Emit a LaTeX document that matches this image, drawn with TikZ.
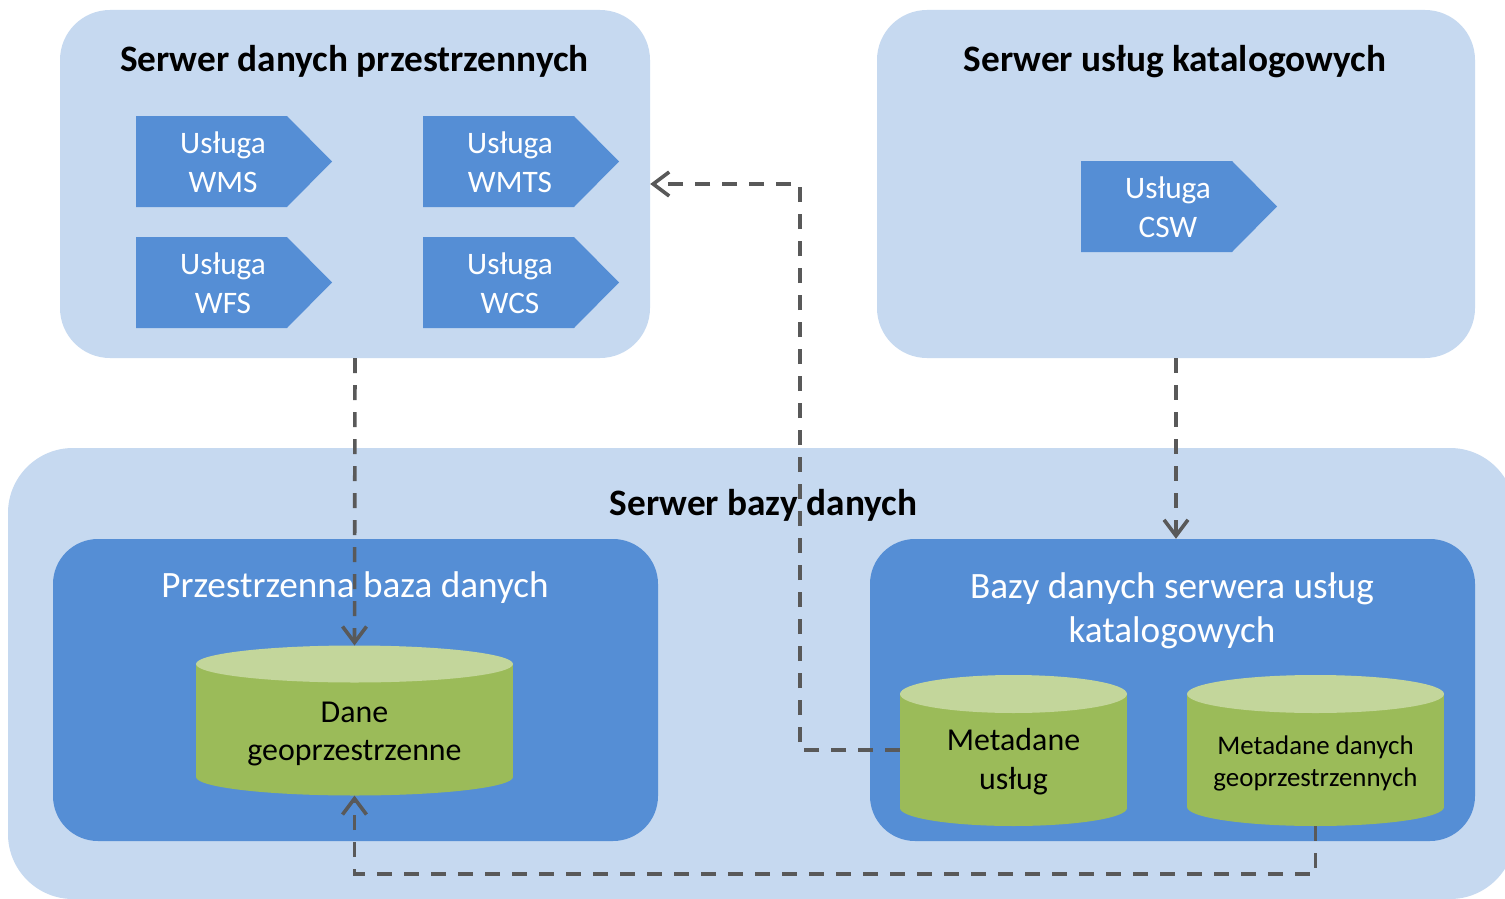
\documentclass[tikz,border=0pt]{standalone}
\usepackage{fontspec}
\setmainfont{Carlito}
\usetikzlibrary{arrows.meta}
\definecolor{lightbox}{RGB}{198,217,240}
\definecolor{midbox}{RGB}{85,142,213}
\definecolor{cylbody}{RGB}{155,187,89}
\definecolor{cyltop}{RGB}{195,214,155}
\definecolor{conncol}{RGB}{89,89,89}
\newcommand\svcshape[5]{% name, left, top, line1, line2
  \fill[midbox] (#2,#3) -- ++(151,0) -- ++(45,45.5) -- ++(-45,45.5) -- ++(-151,0) -- cycle;
  \node[svctext] (#1) at (#2+87,#3+46) {#4\\#5};
}
\newcommand\dbcyl[7]{% name, cx, rx, top cy, top ry, bottom cy, bottom ry
  \fill[cylbody] (#2-#3,#4) rectangle (#2+#3,#6);
  \fill[cylbody] (#2,#6) ellipse [x radius=#3pt, y radius=#7pt];
  \fill[cyltop] (#2,#4) ellipse [x radius=#3pt, y radius=#5pt];
  \coordinate (#1-top) at (#2,#4-#5);
  \coordinate (#1-bot) at (#2,#6+#7);
  \coordinate (#1-w) at (#2-#3,#4);
}
\begin{document}
\begin{tikzpicture}[x=1pt,y=-1pt,
  outerbox/.style={fill=lightbox, draw=none, rounded corners=50pt, inner sep=0pt},
  bigbox/.style={fill=lightbox, draw=none, rounded corners=65pt, inner sep=0pt},
  innerbox/.style={fill=midbox, draw=none, rounded corners=45pt, inner sep=0pt},
  titletext/.style={font=\fontsize{37.3}{45}\selectfont\bfseries, text=black, inner sep=0pt, anchor=base},
  subtitle/.style={font=\fontsize{37.2}{44}\selectfont, text=white, inner sep=0pt, align=center},
  svctext/.style={font=\fontsize{31.3}{39}\selectfont, text=white, inner sep=0pt, align=center},
  cyltext/.style={font=\fontsize{31.9}{39}\selectfont, text=black, inner sep=0pt, align=center},
  cyltextsmall/.style={font=\fontsize{26.9}{32}\selectfont, text=black, inner sep=0pt, align=center},
  conn/.style={draw=conncol, line width=3.6pt, dash pattern=on 15pt off 12pt,
    -{Straight Barb[length=16pt,width=24pt]}}
]
\useasboundingbox (0,0) rectangle (1505,899);
\fill[white] (0,0) rectangle (1505,899);

% outer containers
\node[outerbox, minimum width=590pt, minimum height=348pt] (srvdata) at (355,184) {};
\node[outerbox, minimum width=598pt, minimum height=348pt] (srvcat) at (1176,184) {};
\node[bigbox, minimum width=1507pt, minimum height=451pt] (srvdb) at (761.5,673.5) {};

% inner containers
\node[innerbox, minimum width=605pt, minimum height=302pt] (dbspatial) at (355.5,690) {};
\node[innerbox, minimum width=605pt, minimum height=302pt] (dbcat) at (1172.5,690) {};

% titles
\node[titletext] (t1) at (354.5,71) {Serwer danych przestrzennych};
\node[titletext] (t2) at (1175,71) {Serwer usług katalogowych};
\node[titletext] (t3) at (763.5,515) {Serwer bazy danych};
\node[subtitle, anchor=base] (t4) at (355,597) {Przestrzenna baza danych};
\node[subtitle] (t5) at (1172,611) {Bazy danych serwera usług\\katalogowych};

% services
\svcshape{wms}{136}{116}{Usługa}{WMS}
\svcshape{wmts}{423}{116}{Usługa}{WMTS}
\svcshape{wfs}{136}{237}{Usługa}{WFS}
\svcshape{wcs}{423}{237}{Usługa}{WCS}
\svcshape{csw}{1081}{161}{Usługa}{CSW}

% databases
\dbcyl{dane}{354.5}{158.5}{664}{18.5}{777}{18.5}
\node[cyltext] (danetxt) at (354.5,734) {Dane\\geoprzestrzenne};
\dbcyl{musl}{1013.5}{113.5}{694}{19}{808}{18}
\node[cyltext] (musltxt) at (1013.5,762) {Metadane\\usług};
\dbcyl{mdan}{1315.5}{128.5}{694}{19}{807}{19}
\node[cyltextsmall] (mdantxt) at (1315.5,763) {Metadane danych\\geoprzestrzennych};

% connectors
\coordinate (bend2) at (800,184);
\draw[conn] (musl-w |- 0,750) -| (bend2) -- (srvdata.east);
\draw[conn] (srvdata.south) -- (dane-top);
\draw[conn] (srvcat.south) -- (srvcat.south |- dbcat.north);
\draw[conn] (mdan-bot) -- ++(0,48) -| (dane-bot);
\end{tikzpicture}
\end{document}
